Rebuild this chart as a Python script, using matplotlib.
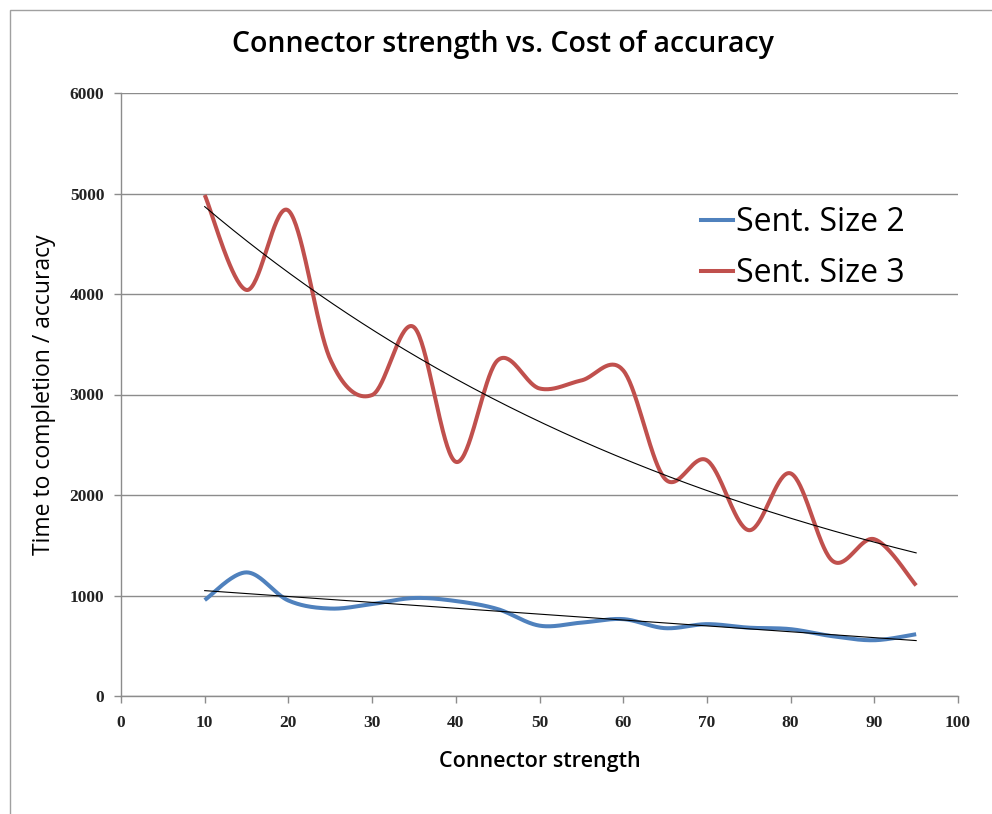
import numpy as np
import matplotlib
matplotlib.use("Agg")
import matplotlib.pyplot as plt
from matplotlib.lines import Line2D

# ---- data ----
x_vals = [10, 15, 20, 25, 30, 35, 40, 45, 50, 55, 60, 65, 70, 75, 80, 85, 90, 95]
size2 = [955, 1230, 950, 870, 915, 975, 945, 865, 700, 730, 765, 675, 715, 680, 665, 595, 555, 615]
size3 = [4985, 4040, 4830, 3350, 2995, 3670, 2330, 3340, 3060, 3140, 3240, 2160, 2345, 1650, 2215, 1345, 1560, 1100]
series_names = ["Sent. Size 2", "Sent. Size 3"]
x_ticks = list(range(0, 101, 10))
y_ticks = list(range(0, 6001, 1000))
title = "Connector strength vs. Cost of accuracy"
x_label = "Connector strength"
y_label = "Time to completion / accuracy"

BLUE = "#4F81BD"
RED = "#C0504D"
GRID = "#8C8C8C"


def excel_smooth(xs, ys, n=40):
    """Bezier smoothing like Excel's smoothed lines."""
    P = np.column_stack([xs, ys]).astype(float)
    out = []
    m = len(P)
    for i in range(m - 1):
        p0 = P[i - 1] if i > 0 else P[i]
        p1 = P[i]
        p2 = P[i + 1]
        p3 = P[i + 2] if i + 2 < m else P[i + 1]
        c1 = p1 + (p2 - p0) / 6.0
        c2 = p2 - (p3 - p1) / 6.0
        t = np.linspace(0, 1, n)[:, None]
        seg = ((1 - t) ** 3) * p1 + 3 * ((1 - t) ** 2) * t * c1 + 3 * (1 - t) * t ** 2 * c2 + t ** 3 * p2
        if i > 0:
            seg = seg[1:]
        out.append(seg)
    out = np.vstack(out)
    return out[:, 0], out[:, 1]


fig = plt.figure(figsize=(9.92, 8.14), dpi=100)
ax = fig.add_axes([121 / 992, 1 - 696 / 814, (958 - 121) / 992, (696 - 93) / 814])

xs = np.array(x_vals, dtype=float)

# smoothed series
bx, by = excel_smooth(xs, size2)
rx, ry = excel_smooth(xs, size3)
ax.plot(bx, by, color=BLUE, lw=2.9, solid_capstyle="butt", zorder=3)
ax.plot(rx, ry, color=RED, lw=2.9, solid_capstyle="butt", zorder=3)

# trendlines: linear for size 2, exponential for size 3
xt = np.linspace(xs.min(), xs.max(), 200)
a, b = np.polyfit(xs, size2, 1)
ax.plot(xt, a * xt + b, color="black", lw=0.8, zorder=4)
k, c = np.polyfit(xs, np.log(size3), 1)
ax.plot(xt, np.exp(c) * np.exp(k * xt), color="black", lw=0.8, zorder=4)

ax.set_xlim(0, 100)
ax.set_ylim(0, 6000)
ax.set_xticks(x_ticks)
ax.set_yticks(y_ticks)
ax.yaxis.grid(True, color=GRID, lw=1.0)
ax.set_axisbelow(True)
for s in ["top", "right"]:
    ax.spines[s].set_visible(False)
for s in ["left", "bottom"]:
    ax.spines[s].set_color(GRID)
    ax.spines[s].set_linewidth(1.0)
ax.tick_params(axis="both", direction="out", length=5, color=GRID, width=1.0)
ax.tick_params(axis="x", pad=9)
ax.tick_params(axis="y", pad=7)
for lab in ax.get_xticklabels() + ax.get_yticklabels():
    lab.set_fontfamily("Liberation Serif")
    lab.set_fontweight("bold")
    lab.set_fontsize(12.5)
    lab.set_color("#222222")

ax.set_xlabel(x_label, fontsize=15.5, fontfamily="Open Sans", fontweight="semibold", labelpad=14)
ax.set_ylabel(y_label, fontsize=16.5, fontfamily="Open Sans", labelpad=10)
fig.text(0.5065, 0.945, title, ha="center", va="center", fontsize=20.5,
         fontfamily="Open Sans", fontweight="semibold")

handles = [Line2D([0], [0], color=BLUE, lw=2.9), Line2D([0], [0], color=RED, lw=2.9)]
leg = ax.legend(handles, series_names, loc="upper left", bbox_to_anchor=(0.678, 0.833),
                frameon=False, prop={"family": "Open Sans", "size": 23},
                handlelength=1.0, handletextpad=0.1, labelspacing=0.55, borderaxespad=0)

# outer chart border (left and top visible)
fig.add_artist(plt.Rectangle((10 / 992, -0.05), 1.2, 1 - 10 / 814 + 0.05,
                             transform=fig.transFigure, fill=False, ec="#A0A0A0", lw=1.0))

fig.savefig("out.png", dpi=100)
